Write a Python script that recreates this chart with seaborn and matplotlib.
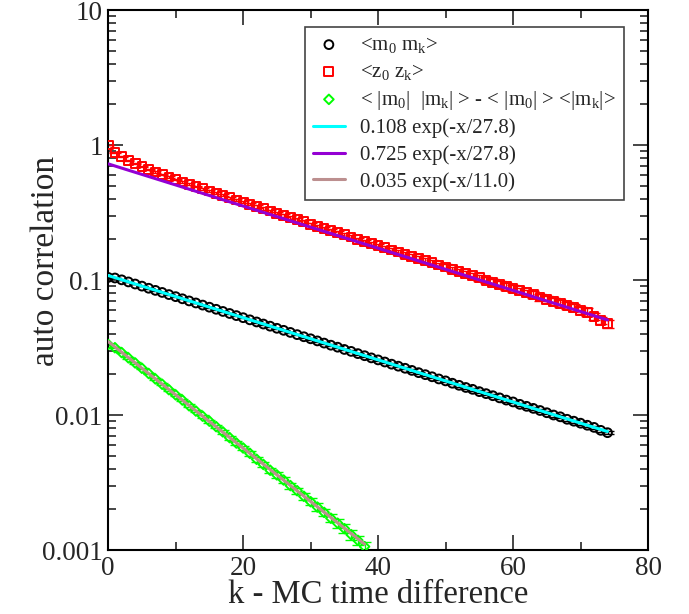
import numpy as np
import seaborn as sns
import matplotlib.pyplot as plt
from matplotlib.ticker import FixedLocator, FixedFormatter, LogLocator, NullFormatter, MultipleLocator

# <m0 mk>  (k = 0 .. 74)
black_y = [0.1045, 0.1035, 0.1003, 0.0968, 0.0934, 0.0901, 0.0869, 0.0838, 0.0809, 0.0780,
           0.0753, 0.0726, 0.0700, 0.0676, 0.0652, 0.0629, 0.0607, 0.0585, 0.0565, 0.0545,
           0.0526, 0.0507, 0.0489, 0.0472, 0.0455, 0.0439, 0.0424, 0.0409, 0.0394, 0.0380,
           0.0367, 0.0354, 0.0341, 0.0329, 0.0318, 0.0306, 0.0296, 0.0285, 0.0275, 0.0265,
           0.0256, 0.0247, 0.0238, 0.0230, 0.0222, 0.0214, 0.0206, 0.0199, 0.0192, 0.0185,
           0.0179, 0.0172, 0.0166, 0.0160, 0.0155, 0.0149, 0.0144, 0.0139, 0.0134, 0.0129,
           0.0125, 0.0120, 0.0116, 0.0112, 0.0108, 0.0104, 0.0100, 0.0097, 0.0093, 0.0090,
           0.0087, 0.0084, 0.0081, 0.0077, 0.0074]
black_rel = [0.004, 0.004, 0.005, 0.005, 0.005, 0.006, 0.006, 0.006, 0.007, 0.007,
             0.007, 0.008, 0.008, 0.008, 0.009, 0.009, 0.009, 0.010, 0.010, 0.010,
             0.011, 0.011, 0.011, 0.012, 0.012, 0.012, 0.013, 0.013, 0.013, 0.014,
             0.014, 0.014, 0.015, 0.015, 0.015, 0.016, 0.016, 0.016, 0.017, 0.017,
             0.017, 0.018, 0.018, 0.018, 0.019, 0.019, 0.019, 0.020, 0.020, 0.020,
             0.021, 0.021, 0.021, 0.022, 0.022, 0.022, 0.023, 0.023, 0.023, 0.024,
             0.024, 0.024, 0.025, 0.025, 0.025, 0.026, 0.026, 0.026, 0.027, 0.027,
             0.027, 0.028, 0.028, 0.028, 0.029]

# <z0 zk>
red_y = [1.00, 0.875, 0.822, 0.770, 0.730, 0.692, 0.662, 0.632, 0.605, 0.580,
         0.553, 0.532, 0.512, 0.493, 0.474, 0.456, 0.439, 0.423, 0.407, 0.392,
         0.378, 0.364, 0.351, 0.338, 0.325, 0.313, 0.302, 0.290, 0.280, 0.270,
         0.259, 0.250, 0.241, 0.232, 0.224, 0.216, 0.208, 0.200, 0.193, 0.186,
         0.179, 0.173, 0.167, 0.161, 0.155, 0.150, 0.144, 0.139, 0.134, 0.129,
         0.125, 0.120, 0.116, 0.112, 0.108, 0.104, 0.0998, 0.0962, 0.0930, 0.0895,
         0.0866, 0.0834, 0.0803, 0.0778, 0.0748, 0.0722, 0.0694, 0.0668, 0.0650, 0.0627,
         0.0594, 0.0578, 0.0538, 0.0502, 0.0475]
red_rel = [0.006, 0.006, 0.007, 0.008, 0.008, 0.009, 0.010, 0.010, 0.011, 0.012,
           0.012, 0.013, 0.014, 0.014, 0.015, 0.016, 0.016, 0.017, 0.018, 0.018,
           0.019, 0.020, 0.021, 0.021, 0.022, 0.023, 0.024, 0.024, 0.025, 0.026,
           0.027, 0.027, 0.028, 0.029, 0.030, 0.031, 0.031, 0.032, 0.033, 0.034,
           0.035, 0.036, 0.036, 0.037, 0.038, 0.039, 0.040, 0.041, 0.042, 0.043,
           0.044, 0.045, 0.046, 0.047, 0.048, 0.049, 0.050, 0.051, 0.052, 0.053,
           0.054, 0.055, 0.056, 0.057, 0.058, 0.059, 0.060, 0.061, 0.062, 0.063,
           0.064, 0.065, 0.066, 0.067, 0.068]

# <|m0| |mk|> - <|m0|><|mk|>   (k = 0 .. 38)
green_y = [0.0333, 0.0315, 0.0290, 0.0265, 0.0243, 0.0222, 0.0203, 0.0185, 0.0169, 0.0154,
           0.0141, 0.0129, 0.0117, 0.0107, 0.0098, 0.0090, 0.0082, 0.0075, 0.0068, 0.0062,
           0.0057, 0.0052, 0.0047, 0.0043, 0.0039, 0.0036, 0.0033, 0.0030, 0.00275, 0.00250,
           0.00228, 0.00208, 0.00190, 0.00172, 0.00158, 0.00144, 0.00130, 0.00118, 0.00106]
green_rel = [0.008, 0.009, 0.010, 0.011, 0.012, 0.013, 0.014, 0.016, 0.017, 0.018,
             0.020, 0.021, 0.023, 0.024, 0.026, 0.027, 0.029, 0.031, 0.033, 0.035,
             0.037, 0.039, 0.041, 0.043, 0.045, 0.048, 0.050, 0.053, 0.055, 0.058,
             0.061, 0.064, 0.067, 0.070, 0.073, 0.076, 0.080, 0.083, 0.087]

# fits given in the legend: amplitude, decay time, last x
fit_amp = [0.108, 0.725, 0.035]
fit_tau = [27.8, 27.8, 11.0]
fit_xmax = [74, 74, 38]
fit_labels = ['0.108 exp(-x/27.8)', '0.725 exp(-x/27.8)', '0.035 exp(-x/11.0)']
fit_colors = ['#00ffff', '#9400d3', '#bc8f8f']

sns.set_style('ticks')
plt.rcParams['font.family'] = ['Liberation Serif', 'DejaVu Serif']
plt.rcParams['mathtext.fontset'] = 'custom'
plt.rcParams['mathtext.rm'] = 'Liberation Serif'
plt.rcParams['mathtext.it'] = 'Liberation Serif:italic'
plt.rcParams['mathtext.default'] = 'rm'

fig = plt.figure(figsize=(6.89, 6.14), dpi=100)
ax = fig.add_axes([0.157, 0.1042, 0.7835, 0.8795])

series = [
    (black_y, black_rel, 'o', 'black', r'<m$_0$ m$_k$>'),
    (red_y, red_rel, 's', 'red', r'<z$_0$ z$_k$>'),
    (green_y, green_rel, 'D', '#00ff00', r'< |m$_0$|  |m$_k$| > - < |m$_0$| > <|m$_k$|>'),
]
for vals, rel, mk, col, lab in series:
    y = np.array(vals)
    k = np.arange(len(y))
    ax.errorbar(k, y, yerr=y * np.array(rel), fmt='none', ecolor=col,
                elinewidth=1.0, capsize=4, capthick=1.0, zorder=2)
    sns.scatterplot(x=k, y=y, marker=mk, s=40 if mk != 'D' else 24,
                    facecolors='none', edgecolor=col, linewidth=1.4,
                    label=lab, ax=ax, zorder=3)

for a, tau, xm, lab, col in zip(fit_amp, fit_tau, fit_xmax, fit_labels, fit_colors):
    xf = np.linspace(0, xm, 200)
    sns.lineplot(x=xf, y=a * np.exp(-xf / tau), color=col, lw=2.2,
                 label=lab, ax=ax, zorder=4)

ax.set_yscale('log')
ax.set_xlim(0, 80)
ax.set_ylim(0.001, 10)
ax.xaxis.set_major_locator(MultipleLocator(20))
ax.xaxis.set_minor_locator(MultipleLocator(10))
ax.yaxis.set_major_locator(FixedLocator([0.001, 0.01, 0.1, 1, 10]))
ax.yaxis.set_major_formatter(FixedFormatter(['0.001', '0.01', '0.1', '1', '10']))
ax.yaxis.set_minor_locator(LogLocator(base=10, subs=np.arange(2, 10)))
ax.yaxis.set_minor_formatter(NullFormatter())

ax.tick_params(which='both', direction='in', top=True, right=True, width=1.2)
ax.tick_params(which='major', length=11, labelsize=19.5, pad=4)
ax.tick_params(which='minor', length=5.5)
for s in ax.spines.values():
    s.set_linewidth(1.5)
    s.set_color('black')

ax.set_xlabel('k - MC time difference', fontsize=23.5, labelpad=-1)
ax.set_ylabel('auto correlation', fontsize=24)
ax.yaxis.set_label_coords(-0.088, 0.535)

leg = ax.legend(loc='upper right', bbox_to_anchor=(0.956, 0.969), fontsize=15,
                frameon=True, fancybox=False, framealpha=1, edgecolor='#444444',
                handlelength=1.5, handletextpad=0.75, labelspacing=0.33,
                borderpad=0.4, borderaxespad=0, scatterpoints=1)
leg.get_frame().set_linewidth(1.2)

fig.savefig('out.png', dpi=100)
